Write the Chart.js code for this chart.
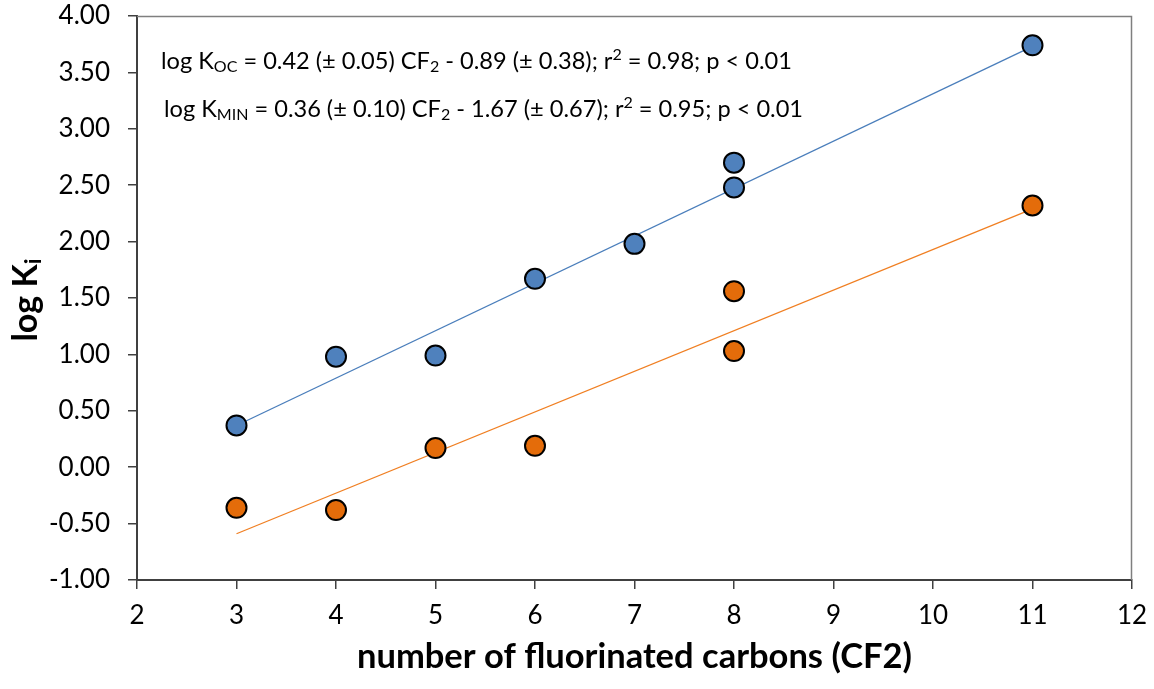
<!DOCTYPE html>
<html>
<head>
<meta charset="utf-8">
<script src="https://cdn.jsdelivr.net/npm/chart.js@4.4.1/dist/chart.umd.min.js"></script>
<style>
  html, body { margin: 0; padding: 0; background: #fff; }
  #wrap { width: 1154px; height: 689px; }
</style>
</head>
<body>
<div id="wrap"><canvas id="myChart" width="1154" height="689"></canvas></div>
<script>
// carbon chain length (CF2) for each measured compound
const cf2Koc = [3, 4, 5, 6, 7, 8, 8, 11]
const logKoc = [0.37, 0.98, 0.99, 1.67, 1.98, 2.70, 2.48, 3.74]

const cf2Kmin = [3, 4, 5, 6, 8, 8, 11]
const logKmin = [-0.36, -0.38, 0.17, 0.19, 1.56, 1.03, 2.32]

// regression coefficients printed on the chart
const ocSlope = 0.42, ocIntercept = -0.89
const minSlope = 0.36, minIntercept = -1.67
const fitRange = [3, 11]

const xTicks = [2, 3, 4, 5, 6, 7, 8, 9, 10, 11, 12]
const yTicks = [-1, -0.5, 0, 0.5, 1, 1.5, 2, 2.5, 3, 3.5, 4]

const blue = '#4F81BD'
const orange = '#E46C0A'
const FONT = 'Lato, "Open Sans", sans-serif'

const toPoints = (xs, ys) => xs.map((x, i) => ({ x: x, y: ys[i] }))
const fitLine = (m, b) => fitRange.map(x => ({ x: x, y: m * x + b }))

// draw text made of pieces, some sub/superscripted
function drawRich(ctx, x, y, parts, size) {
    let cx = x
    parts.forEach(p => {
        let s = size, dy = 0
        if (p.sub) { s = size * 0.68; dy = size * 0.12 }
        if (p.sup) { s = size * 0.68; dy = -size * 0.38 }
        ctx.font = (p.bold ? 'bold ' : '') + s + 'px ' + FONT
        ctx.fillText(p.t, cx, y + dy)
        cx += ctx.measureText(p.t).width
    })
}

const extras = {
    id: 'extras',
    afterDraw(chart) {
        const ctx = chart.ctx
        const a = chart.chartArea
        ctx.save()
        // top and right frame of the plot area
        ctx.strokeStyle = '#7f7f7f'
        ctx.lineWidth = 1.5
        ctx.beginPath()
        ctx.moveTo(a.left, a.top + 0.5)
        ctx.lineTo(a.right - 0.5, a.top + 0.5)
        ctx.lineTo(a.right - 0.5, a.bottom)
        ctx.stroke()

        ctx.fillStyle = '#000'
        ctx.textBaseline = 'alphabetic'
        ctx.textAlign = 'left'
        drawRich(ctx, 161, 69, [
            { t: 'log K' }, { t: 'OC', sub: true },
            { t: ' = 0.42 (\u00b1 0.05) CF' }, { t: '2', sub: true },
            { t: ' - 0.89 (\u00b1 0.38); r' }, { t: '2', sup: true },
            { t: ' = 0.98; p < 0.01' }
        ], 23.6)
        drawRich(ctx, 164, 117, [
            { t: 'log K' }, { t: 'MIN', sub: true },
            { t: ' = 0.36 (\u00b1 0.10) CF' }, { t: '2', sub: true },
            { t: ' - 1.67 (\u00b1 0.67); r' }, { t: '2', sup: true },
            { t: ' = 0.95; p < 0.01' }
        ], 23.6)

        // x axis title
        ctx.textAlign = 'center'
        ctx.font = 'bold 34.5px ' + FONT
        ctx.fillText('number of fluorinated carbons (CF2)', (a.left + a.right) / 2, 668)

        // y axis title, rotated, with subscript i
        ctx.translate(37, 300)
        ctx.rotate(-Math.PI / 2)
        ctx.font = 'bold 34px ' + FONT
        const w1 = ctx.measureText('log K').width
        ctx.font = 'bold 23px ' + FONT
        const w2 = ctx.measureText('i').width
        ctx.textAlign = 'left'
        drawRich(ctx, -(w1 + w2) / 2, 0, [
            { t: 'log K', bold: true }, { t: 'i', bold: true, sub: true }
        ], 34)
        ctx.restore()
    }
}

const ctx = document.getElementById('myChart').getContext('2d')
const myChart = new Chart(ctx, {
    type: 'scatter',
    data: {
        datasets: [
            {
                label: 'log Koc',
                data: toPoints(cf2Koc, logKoc),
                backgroundColor: blue,
                borderColor: '#000',
                borderWidth: 2,
                pointRadius: 10,
                pointHoverRadius: 10,
                order: 1
            },
            {
                label: 'log Kmin',
                data: toPoints(cf2Kmin, logKmin),
                backgroundColor: orange,
                borderColor: '#000',
                borderWidth: 2,
                pointRadius: 10,
                pointHoverRadius: 10,
                order: 1
            },
            {
                type: 'line',
                label: 'fit Koc',
                data: fitLine(ocSlope, ocIntercept),
                borderColor: '#4A7EBB',
                borderWidth: 1.3,
                pointRadius: 0,
                fill: false,
                order: 2
            },
            {
                type: 'line',
                label: 'fit Kmin',
                data: fitLine(minSlope, minIntercept),
                borderColor: '#F07F22',
                borderWidth: 1.3,
                pointRadius: 0,
                fill: false,
                order: 2
            }
        ]
    },
    plugins: [extras],
    options: {
        responsive: false,
        animation: false,
        layout: { padding: { top: 16, right: 22, left: 0, bottom: 0 } },
        plugins: {
            legend: { display: false },
            tooltip: { enabled: false }
        },
        scales: {
            x: {
                type: 'linear',
                min: 2,
                max: 12,
                afterBuildTicks: s => { s.ticks = xTicks.map(v => ({ value: v })) },
                afterFit: s => { s.height = 109; s.paddingRight = 0; s.paddingLeft = 0 },
                grid: { drawOnChartArea: false, tickLength: 9, color: '#404040', lineWidth: 1.5 },
                border: { color: '#404040', width: 2 },
                ticks: { color: '#000', font: { family: FONT, size: 26 }, padding: 11 }
            },
            y: {
                min: -1,
                max: 4,
                afterBuildTicks: s => { s.ticks = yTicks.map(v => ({ value: v })) },
                afterFit: s => { s.width = 137; s.paddingTop = 0; s.paddingBottom = 0 },
                grid: { drawOnChartArea: false, tickLength: 9, color: '#404040', lineWidth: 1.5 },
                border: { color: '#404040', width: 2 },
                ticks: {
                    color: '#000',
                    font: { family: FONT, size: 26 },
                    padding: 18,
                    callback: v => v.toFixed(2)
                }
            }
        }
    }
})
</script>
</body>
</html>
